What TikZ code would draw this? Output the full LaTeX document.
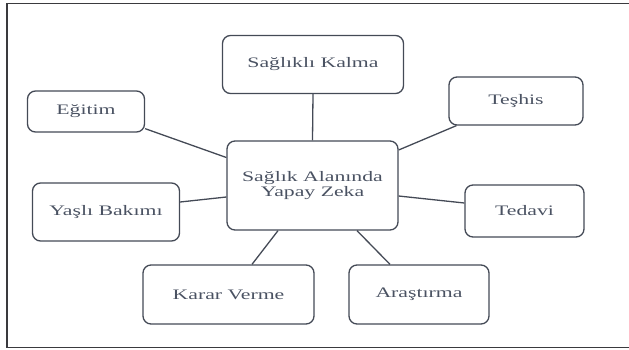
\documentclass[tikz,border=0pt]{standalone}
\usepackage{fontspec}
\usepackage{tikz}
\newfontfamily\boxfont[FakeStretch=1.5]{Liberation Serif}

\begin{document}
\begin{tikzpicture}[
  x=1pt, y=-1pt,
  font=\boxfont\fontsize{14.5}{15}\selectfont,
  topic/.style={rectangle, rounded corners=8pt, draw=boxLine, line width=1.3pt,
    align=center, text=boxText, inner sep=0pt},
  link/.style={draw=boxLine, line width=1.3pt},
]
\definecolor{boxLine}{HTML}{444A56}
\definecolor{boxText}{HTML}{4A5262}
\definecolor{frameLine}{HTML}{3A3A3E}

\useasboundingbox (0,0) rectangle (629,349);
\begin{scope}
  \clip (0,0) rectangle (629,349);
  \draw[frameLine, line width=1.6pt] (7,3.5) rectangle (640,347.5);
\end{scope}

% Hub in the middle, seven topics around it.
\node[topic, minimum width=171pt, minimum height=89pt]
  (merkez) at (312.5,185.5) {Sağlık Alanında\\Yapay Zeka};
\node[topic, minimum width=181pt, minimum height=58pt]
  (kalma) at (313,64.5) {Sağlıklı Kalma};
\node[topic, minimum width=117pt, minimum height=41pt]
  (egitim) at (86,111.5) {Eğitim};
\node[topic, minimum width=134pt, minimum height=48pt]
  (teshis) at (516,101) {Teşhis};
\node[topic, minimum width=147pt, minimum height=58pt]
  (yasli) at (106,212) {Yaşlı Bakımı};
\node[topic, minimum width=119pt, minimum height=52pt]
  (tedavi) at (524.5,211) {Tedavi};
\node[topic, minimum width=171pt, minimum height=59pt]
  (karar) at (228.5,294.5) {Karar Verme};
\node[topic, minimum width=140pt, minimum height=59pt]
  (arastirma) at (419,294.5) {Araştırma};

\draw[link] (kalma.south) -- (merkez.north);
\draw[link] ([yshift=4pt]egitim.south east) -- ([yshift=28pt]merkez.west);
\draw[link] ([xshift=8pt]teshis.south west) -- ([yshift=35.5pt]merkez.east);
\draw[link] ([yshift=10pt]yasli.east) -- ([yshift=-11.5pt]merkez.west);
\draw[link] ([yshift=8pt]tedavi.west) -- ([yshift=-10.5pt]merkez.east);
\draw[link] ([xshift=23.5pt]karar.north) -- ([xshift=-34.5pt]merkez.south);
\draw[link] ([xshift=-29pt]arastirma.north) -- ([xshift=44.5pt]merkez.south);
\end{tikzpicture}
\end{document}
